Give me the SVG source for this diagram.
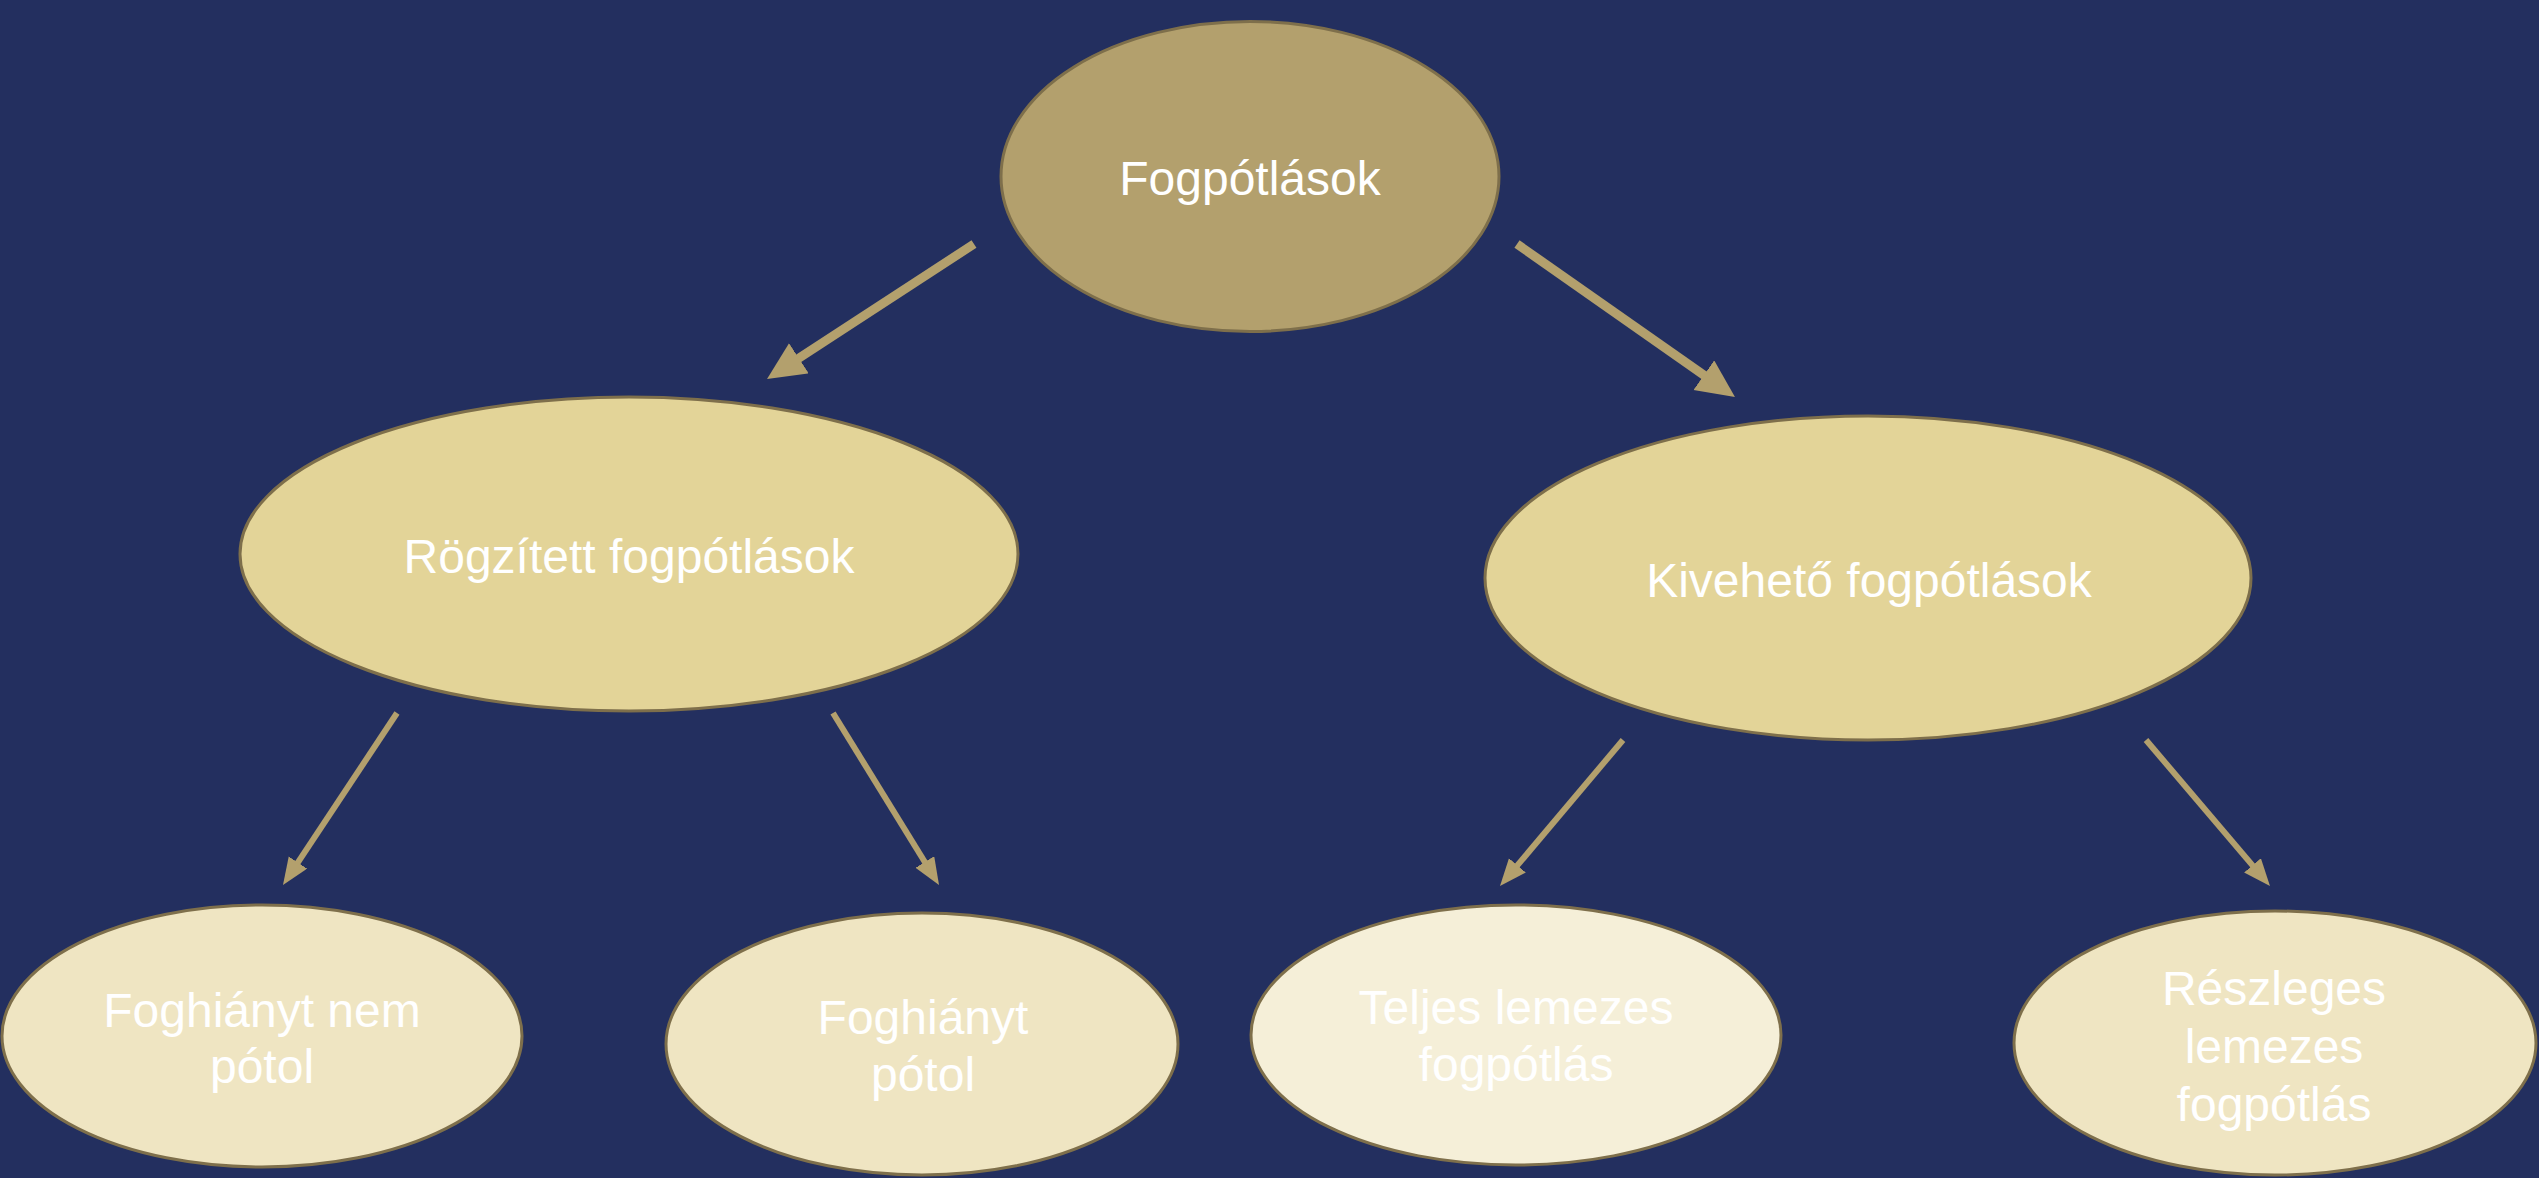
<svg xmlns="http://www.w3.org/2000/svg" width="2539" height="1178" viewBox="0 0 2539 1178">
  <defs>
    <style>
      .node { stroke: #7E6F4B; stroke-width: 3; }
      .l1 { fill: #B3A06D; }
      .l2 { fill: #E3D498; }
      .l3 { fill: #EFE5C2; }
      .l3b { fill: #F5EFD8; }
      .lbl { font-family: "Liberation Sans", Arial, sans-serif; font-size: 48px; fill: #FFFFFF; text-anchor: middle; }
      .conn { stroke: #B3A06D; fill: none; stroke-linecap: butt; }
      .big { stroke-width: 9; marker-end: url(#headBig); }
      .small { stroke-width: 6; marker-end: url(#headSmall); }
    </style>
    <marker id="headBig" markerUnits="userSpaceOnUse" markerWidth="40" markerHeight="40" refX="2" refY="18" orient="auto">
      <path d="M0,0 L38,18 L0,36 Z" fill="#B3A06D"/>
    </marker>
    <marker id="headSmall" markerUnits="userSpaceOnUse" markerWidth="30" markerHeight="24" refX="2" refY="11" orient="auto">
      <path d="M0,0 L27,11 L0,22 Z" fill="#B3A06D"/>
    </marker>
  </defs>
  <rect x="0" y="0" width="2539" height="1178" fill="#232F5F"/>

  <g id="connectors">
    <path class="conn big" d="M974,244 L797.2,359.3"/>
    <path class="conn big" d="M1517,244 L1705.5,376.3"/>
    <path class="conn small" d="M397,713 L296.8,864.2"/>
    <path class="conn small" d="M833,713 L925.9,863.7"/>
    <path class="conn small" d="M1623,740 L1516.1,866.9"/>
    <path class="conn small" d="M2146,740 L2253.8,866.9"/>
  </g>

  <g id="node-fogpotlasok">
    <ellipse class="node l1" cx="1250" cy="176.5" rx="249" ry="155"/>
    <text class="lbl" x="1250" y="195">Fogpótlások</text>
  </g>
  <g id="node-rogzitett">
    <ellipse class="node l2" cx="629" cy="554" rx="389" ry="157"/>
    <text class="lbl" x="629" y="573">Rögzített fogpótlások</text>
  </g>
  <g id="node-kiveheto">
    <ellipse class="node l2" cx="1868" cy="578" rx="383" ry="162"/>
    <text class="lbl" x="1869" y="597">Kivehető fogpótlások</text>
  </g>
  <g id="node-foghianyt-nem-potol">
    <ellipse class="node l3" cx="262" cy="1036" rx="260" ry="131"/>
    <text class="lbl" x="262" y="1027">Foghiányt nem</text>
    <text class="lbl" x="262" y="1083">pótol</text>
  </g>
  <g id="node-foghianyt-potol">
    <ellipse class="node l3" cx="922" cy="1044" rx="256" ry="131"/>
    <text class="lbl" x="923" y="1034">Foghiányt</text>
    <text class="lbl" x="923" y="1091">pótol</text>
  </g>
  <g id="node-teljes">
    <ellipse class="node l3b" cx="1516" cy="1035" rx="265" ry="130"/>
    <text class="lbl" x="1516" y="1024">Teljes lemezes</text>
    <text class="lbl" x="1516" y="1081">fogpótlás</text>
  </g>
  <g id="node-reszleges">
    <ellipse class="node l3" cx="2275" cy="1043" rx="261" ry="132"/>
    <text class="lbl" x="2274" y="1005">Részleges</text>
    <text class="lbl" x="2274" y="1063">lemezes</text>
    <text class="lbl" x="2274" y="1121">fogpótlás</text>
  </g>
</svg>
